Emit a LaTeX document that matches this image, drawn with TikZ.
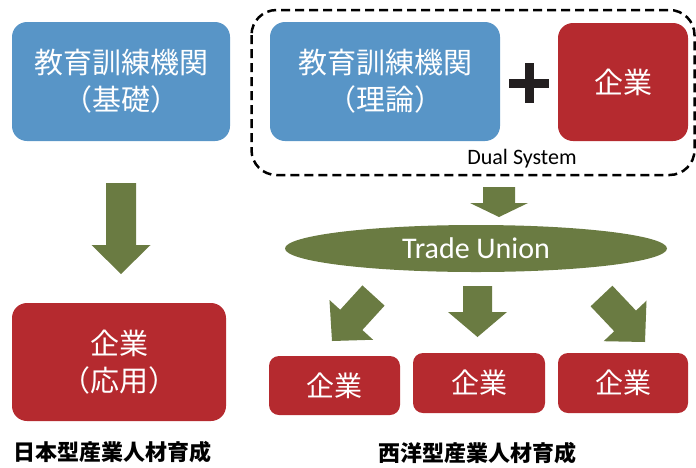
\documentclass[tikz,border=0pt]{standalone}
\usepackage{fontspec}
\setmainfont{Carlito}
\newfontfamily\jp{Noto Sans CJK JP}
\usetikzlibrary{calc,shapes.geometric}
\definecolor{boxblue}{RGB}{88,149,199}
\definecolor{boxred}{RGB}{181,42,47}
\definecolor{arrgreen}{RGB}{106,123,66}
\definecolor{plusc}{RGB}{35,31,32}
\tikzset{
  bigbox/.style={rectangle, rounded corners=15pt, inner sep=0pt, align=center,
    text=white, font=\jp\fontsize{29}{37}\selectfont},
  bluebox/.style={bigbox, fill=boxblue},
  redbox/.style={bigbox, fill=boxred},
  smallred/.style={bigbox, fill=boxred, rounded corners=10pt, font=\jp\fontsize{28}{34}\selectfont},
  titletext/.style={font=\jp\bfseries\fontsize{22}{26}\selectfont, text=black, inner sep=0pt},
}
\newcommand\blockarr[5]{%
  \path ($(#2)!#5!(#1)$) coordinate (ba);
  \fill[arrgreen] ($(#1)!#3!90:(#2)$) -- ($(ba)!#3!90:(#2)$) -- ($(ba)!#4!90:(#2)$)
    -- (#2) -- ($(ba)!#4!-90:(#2)$) -- ($(ba)!#3!-90:(#2)$) -- ($(#1)!#3!-90:(#2)$) -- cycle;
}
\begin{document}
\begin{tikzpicture}[x=1pt,y=-1pt]
\useasboundingbox (0,0) rectangle (696,467);

% dashed frame
\draw[line width=2.5pt, dash pattern=on 9pt off 5pt, rounded corners=25pt] (251.5,10) rectangle (694.5,175);

% left column
\node[bluebox, minimum width=218pt, minimum height=119pt] (eduA) at (121,81.5) {教育訓練機関\\（基礎）};
\node[redbox, minimum width=214pt, minimum height=118pt] (entD) at (119,362) {企業\\（応用）};
\node[titletext, anchor=west] (jptitle) at (13,452) {日本型産業人材育成};

% right top
\node[bluebox, minimum width=230pt, minimum height=119pt] (eduB) at (385,81.5) {教育訓練機関\\（理論）};
\node[redbox, minimum width=130pt, minimum height=118pt] (entC) at (623,82) {企業};
\fill[plusc] (524.5,63) rectangle (533.5,103);
\fill[plusc] (509,78.5) rectangle (549,87.5);
\node[font=\fontsize{22}{26}\selectfont, inner sep=0pt] (dual) at (522,158.5) {Dual System};

% trade union
\node[ellipse, fill=arrgreen, minimum width=382pt, minimum height=47pt, inner sep=0pt,
  text=white, font=\fontsize{30}{34}\selectfont] (tu) at (476,248.5) {Trade Union};

% bottom boxes
\node[smallred, minimum width=131pt, minimum height=59pt] (e1) at (334.5,385.5) {企業};
\node[smallred, minimum width=132pt, minimum height=60pt] (e2) at (479,383) {企業};
\node[smallred, minimum width=130pt, minimum height=60pt] (e3) at (623,383) {企業};
\node[titletext] (wtitle) at (477,453) {西洋型産業人材育成};

% arrows
\coordinate (a1t) at (121,183);   \coordinate (a1p) at (121,274);
\coordinate (a2t) at (499,187);   \coordinate (a2p) at (499,217);
\coordinate (a3t) at (477.5,286); \coordinate (a3p) at (477.5,337);
\coordinate (a4t) at (373.5,295.5); \coordinate (a4p) at (332,341);
\coordinate (a5t) at (601.5,296); \coordinate (a5p) at (645,342);
\blockarr{a1t}{a1p}{15pt}{29.5pt}{29pt}
\blockarr{a2t}{a2p}{16pt}{29pt}{14pt}
\blockarr{a3t}{a3p}{14.5pt}{29.5pt}{25pt}
\blockarr{a4t}{a4p}{15pt}{29.5pt}{28.6pt}
\blockarr{a5t}{a5p}{15pt}{29.5pt}{29pt}
\end{tikzpicture}
\end{document}
